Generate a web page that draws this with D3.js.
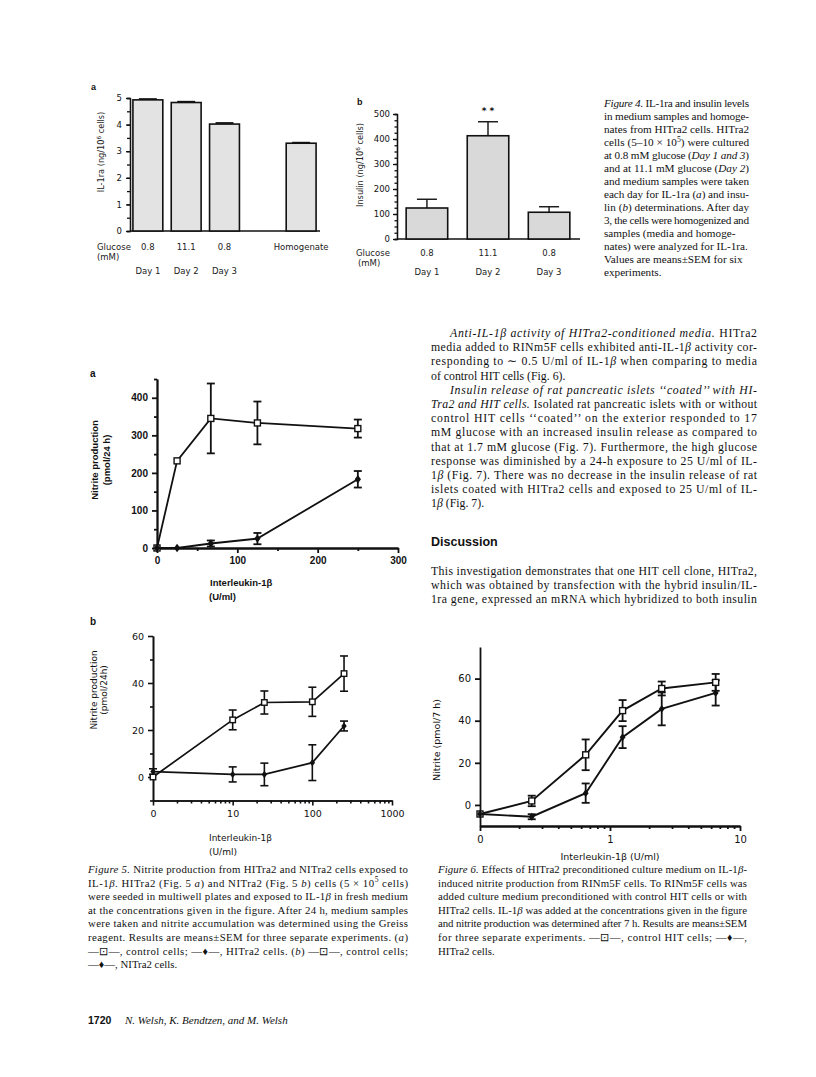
<!DOCTYPE html>
<html>
<head>
<meta charset="utf-8">
<script src="https://cdn.jsdelivr.net/npm/d3@7"></script>
<style>
  body { margin: 0; background: #fff; }
</style>
</head>
<body>
<div id="page"></div>
<script>
// ---- Figure 4a: IL-1ra in medium / homogenate
const il1raKeys = ["d1", "d2", "d3", "gap", "hom"]
const il1raBars = ["d1", "d2", "d3", "hom"]
const il1raGlucose = ["0.8", "11.1", "0.8", "Homogenate"]
const il1raDays = ["Day 1", "Day 2", "Day 3", ""]
const il1raMean = [4.93, 4.83, 4.02, 3.30]
const il1raSem = [0.03, 0.03, 0.04, 0.02]

// ---- Figure 4b: insulin
const insKeys = ["d1", "d2", "d3"]
const insGlucose = ["0.8", "11.1", "0.8"]
const insDays = ["Day 1", "Day 2", "Day 3"]
const insMean = [124, 413, 107]
const insSem = [35, 56, 22]

// ---- Figure 5a: HITra2, nitrite (pmol/24 h) vs IL-1b (U/ml)
const doseA = [0, 25, 67, 125, 250]
const ctrlA = [0, 232, 345, 333, 318]
const ctrlAErr = [0, 0, 93, 57, 24]
const hitA = [0, 0, 12, 25, 183]
const hitAErr = [0, 0, 8, 15, 22]

// ---- Figure 5b: NITra2 (log dose, 0 drawn at first decade)
const doseB = [0, 10, 25, 100, 250]
const ctrlB = [0, 24.3, 31.7, 32, 44]
const ctrlBErr = [0, 4.2, 4.9, 6.2, 7.5]
const nitB = [2.3, 1.1, 1.1, 6.1, 21.7]
const nitBErr = [1.2, 3.2, 4.8, 7.6, 2.1]

// ---- Figure 6: RINm5F, nitrite (pmol/7 h)
const dose6 = [0, 0.25, 0.65, 1.25, 2.5, 6.5]
const ctrl6 = [-4.3, 1.9, 23.8, 44.8, 55.3, 58.2]
const ctrl6Err = [0, 2.5, 7.3, 5, 3.3, 4]
const hit6 = [-4.3, -5.6, 5.6, 32.2, 45.6, 53.2]
const hit6Err = [0, 1.2, 4.6, 5.2, 7.8, 6]

const SERIF = "'Liberation Serif', 'Times New Roman', serif"
const SANS = "'DejaVu Sans', sans-serif"
const HELV = "'Liberation Sans', Arial, sans-serif"

const svg = d3.select("#page").append("svg")
  .attr("width", 816).attr("height", 1077)
svg.append("rect").attr("width", 816).attr("height", 1077).attr("fill", "#fff")

// text with _italic_ and ^sup^ markup
function richText(g, str, x, y, o) {
  const t = g.append("text").attr("x", x).attr("y", y)
    .style("font-family", o.family).style("font-size", o.size + "px")
    .attr("fill", o.fill || "#111")
  if (o.weight) t.style("font-weight", o.weight)
  if (o.anchor) t.attr("text-anchor", o.anchor)
  if (o.transform) t.attr("transform", o.transform)
  const parts = str.split(/(_[^_]*_|\^[^^]*\^)/).filter(s => s.length)
  let up = false
  parts.forEach(p => {
    let s
    if (p[0] === "_") s = t.append("tspan").style("font-style", "italic").text(p.slice(1, -1))
    else if (p[0] === "^") {
      s = t.append("tspan").attr("dy", -o.size * 0.38).style("font-size", (o.size * 0.7) + "px").text(p.slice(1, -1))
      up = true
      return
    } else s = t.append("tspan").text(p)
    if (up) { s.attr("dy", o.size * 0.38); up = false }
  })
  if (o.width) t.attr("textLength", o.width).attr("lengthAdjust", "spacing")
  return t
}

// "\t" prefix = indent, trailing "¶" = paragraph end (not justified)
function block(lines, x0, y0, lh, width, o) {
  lines.forEach((l, i) => {
    let txt = l, ind = 0, just = true
    if (txt.startsWith("\t")) { txt = txt.slice(1); ind = o.indent || 19 }
    if (txt.endsWith("¶")) { txt = txt.slice(0, -1); just = false }
    richText(svg, txt, x0 + ind, y0 + i * lh, Object.assign({}, o, { width: just ? width - ind : null }))
  })
}

function errBars(g, xs, ys, es, x, y, cap, sw) {
  xs.forEach((d, i) => {
    if (!es[i]) return
    const cx = x(d)
    g.append("line").attr("x1", cx).attr("x2", cx).attr("y1", y(ys[i] - es[i])).attr("y2", y(ys[i] + es[i]))
      .attr("stroke", "#111").attr("stroke-width", sw)
    ;[ys[i] - es[i], ys[i] + es[i]].forEach(v => {
      g.append("line").attr("x1", cx - cap).attr("x2", cx + cap).attr("y1", y(v)).attr("y2", y(v))
        .attr("stroke", "#111").attr("stroke-width", sw)
    })
  })
}

function series(g, xs, ys, x, y, marker, sw, ms) {
  const line = d3.line().x(d => x(d[0])).y(d => y(d[1]))
  g.append("path").datum(xs.map((d, i) => [d, ys[i]])).attr("d", line)
    .attr("fill", "none").attr("stroke", "#111").attr("stroke-width", sw)
  xs.forEach((d, i) => {
    const cx = x(d), cy = y(ys[i])
    if (marker === "square") {
      g.append("rect").attr("x", cx - ms / 2).attr("y", cy - ms / 2).attr("width", ms).attr("height", ms)
        .attr("fill", "#fff").attr("stroke", "#111").attr("stroke-width", 1.4)
    } else {
      g.append("path").attr("d", `M${cx},${cy - ms * 0.6}L${cx + ms * 0.45},${cy}L${cx},${cy + ms * 0.6}L${cx - ms * 0.45},${cy}Z`)
        .attr("fill", "#111")
    }
  })
}

function styleAxis(ax, family, size, weight, sw) {
  ax.select(".domain").attr("stroke", "#111").attr("stroke-width", sw)
  ax.selectAll(".tick line").attr("stroke", "#111").attr("stroke-width", sw)
  ax.selectAll(".tick text").style("font-family", family).style("font-size", size + "px")
    .style("font-weight", weight).attr("fill", "#111")
}

// ================= Figure 4a =================
{
  const g = svg.append("g")
  const x = d3.scaleBand().domain(il1raKeys).range([131, 318]).paddingInner(0.22).paddingOuter(0.05)
  const y = d3.scaleLinear().domain([0, 5]).range([231, 98])
  g.append("g").attr("transform", "translate(130,0)")
    .call(d3.axisLeft(y).tickValues(d3.range(0, 5.01, 0.5)).tickSize(3).tickFormat(""))
    .call(a => styleAxis(a, SANS, 8, 400, 1.3))
  const ya = g.append("g").attr("transform", "translate(130,0)")
    .call(d3.axisLeft(y).ticks(5).tickSize(4).tickSizeOuter(0).tickPadding(4))
  styleAxis(ya, SANS, 8.5, 400, 1.3)
  g.append("line").attr("x1", 130).attr("x2", 320).attr("y1", y(0)).attr("y2", y(0))
    .attr("stroke", "#111").attr("stroke-width", 1.6)
  il1raBars.forEach((k, i) => {
    const bx = x(k), bw = x.bandwidth(), cx = bx + bw / 2
    g.append("rect").attr("x", bx).attr("y", y(il1raMean[i])).attr("width", bw)
      .attr("height", y(0) - y(il1raMean[i])).attr("fill", "#e3e3e3").attr("stroke", "#111").attr("stroke-width", 1.6)
    g.append("line").attr("x1", cx - bw * 0.3).attr("x2", cx + bw * 0.3)
      .attr("y1", y(il1raMean[i] + il1raSem[i])).attr("y2", y(il1raMean[i] + il1raSem[i]))
      .attr("stroke", "#111").attr("stroke-width", 1.8)
    richText(g, il1raGlucose[i], cx, 250, { family: SANS, size: 8.5, anchor: "middle", fill: "#222" })
    if (il1raDays[i]) richText(g, il1raDays[i], cx, 274, { family: SANS, size: 8.5, anchor: "middle", fill: "#222" })
  })
  richText(g, "Glucose", 97, 250, { family: SANS, size: 8.5, fill: "#222" })
  richText(g, "(mM)", 97, 260, { family: SANS, size: 8.5, fill: "#222" })
  richText(g, "IL-1ra (ng/10^6^ cells)", 0, 0, { family: SANS, size: 8.2, anchor: "middle", fill: "#222", transform: "translate(104,152) rotate(-90)" })
  richText(g, "a", 91, 90, { family: HELV, size: 9, weight: 700 })
}

// ================= Figure 4b =================
{
  const g = svg.append("g")
  const x = d3.scaleBand().domain(insKeys).range([397, 579]).paddingInner(0.32).paddingOuter(0.15)
  const y = d3.scaleLinear().domain([0, 500]).range([239, 114])
  g.append("g").attr("transform", "translate(397,0)")
    .call(d3.axisLeft(y).tickValues(d3.range(0, 501, 25)).tickSize(2.5).tickFormat(""))
    .call(a => styleAxis(a, SANS, 8, 400, 1.3))
  const ya = g.append("g").attr("transform", "translate(397,0)")
    .call(d3.axisLeft(y).ticks(5).tickSize(4).tickSizeOuter(0).tickPadding(3))
  styleAxis(ya, SANS, 8.5, 400, 1.3)
  g.append("line").attr("x1", 397).attr("x2", 580).attr("y1", y(0)).attr("y2", y(0))
    .attr("stroke", "#111").attr("stroke-width", 1.4)
  insKeys.forEach((k, i) => {
    const bx = x(k), bw = x.bandwidth(), cx = bx + bw / 2
    g.append("rect").attr("x", bx).attr("y", y(insMean[i])).attr("width", bw)
      .attr("height", y(0) - y(insMean[i])).attr("fill", "#d9d9d9").attr("stroke", "#111").attr("stroke-width", 1.6)
    g.append("line").attr("x1", cx).attr("x2", cx).attr("y1", y(insMean[i])).attr("y2", y(insMean[i] + insSem[i]))
      .attr("stroke", "#111").attr("stroke-width", 1.4)
    g.append("line").attr("x1", cx - 10).attr("x2", cx + 10)
      .attr("y1", y(insMean[i] + insSem[i])).attr("y2", y(insMean[i] + insSem[i]))
      .attr("stroke", "#111").attr("stroke-width", 1.4)
    richText(g, insGlucose[i], cx, 256, { family: SANS, size: 8.5, anchor: "middle", fill: "#222" })
    richText(g, insDays[i], cx, 275, { family: SANS, size: 8.5, anchor: "middle", fill: "#222" })
  })
  richText(g, "* *", x("d2") + x.bandwidth() / 2, 114, { family: SANS, size: 9, anchor: "middle", weight: 700 })
  richText(g, "Glucose", 356, 256, { family: SANS, size: 8.5, fill: "#222" })
  richText(g, "(mM)", 358, 266, { family: SANS, size: 8.5, fill: "#222" })
  richText(g, "Insulin (ng/10^6^ cells)", 0, 0, { family: SANS, size: 8.2, anchor: "middle", fill: "#222", transform: "translate(363,165) rotate(-90)" })
  richText(g, "b", 357, 105, { family: HELV, size: 9, weight: 700 })
}

// ================= Figure 5a =================
{
  const g = svg.append("g")
  const x = d3.scaleLinear().domain([0, 300]).range([157, 398])
  const y = d3.scaleLinear().domain([0, 450]).range([548, 379])
  g.append("g").attr("transform", "translate(157,0)")
    .call(d3.axisLeft(y).tickValues([50, 150, 250, 350, 450]).tickSize(3).tickFormat("").tickSizeOuter(0))
    .call(a => styleAxis(a, HELV, 10, 700, 1.8))
  const ya = g.append("g").attr("transform", "translate(157,0)")
    .call(d3.axisLeft(y).tickValues([0, 100, 200, 300, 400]).tickSize(5).tickSizeOuter(0).tickPadding(4))
  styleAxis(ya, HELV, 10, 700, 1.8)
  g.append("g").attr("transform", "translate(0,548)")
    .call(d3.axisBottom(x).tickValues([50, 150, 250]).tickSize(3).tickFormat("").tickSizeOuter(0))
    .call(a => styleAxis(a, HELV, 10, 700, 1.8))
  const xa = g.append("g").attr("transform", "translate(0,548)")
    .call(d3.axisBottom(x).tickValues([0, 100, 200, 300]).tickSize(5).tickSizeOuter(0).tickPadding(4))
  styleAxis(xa, HELV, 10, 700, 1.8)
  errBars(g, doseA, ctrlA, ctrlAErr, x, y, 4, 1.8)
  errBars(g, doseA, hitA, hitAErr, x, y, 4, 1.8)
  series(g, doseA, ctrlA, x, y, "square", 1.8, 6)
  series(g, doseA, hitA, x, y, "diamond", 1.8, 7)
  richText(g, "Nitrite production", 0, 0, { family: HELV, size: 9.5, weight: 700, anchor: "middle", transform: "translate(98,460) rotate(-90)" })
  richText(g, "(pmol/24  h)", 0, 0, { family: HELV, size: 9.5, weight: 700, anchor: "middle", transform: "translate(110,460) rotate(-90)" })
  richText(g, "Interleukin-1β", 210, 586, { family: HELV, size: 9.5, weight: 700 })
  richText(g, "(U/ml)", 209, 600, { family: HELV, size: 9.5, weight: 700 })
  richText(g, "a", 90, 377, { family: HELV, size: 10, weight: 700 })
}

// ================= Figure 5b =================
{
  const g = svg.append("g")
  const xl = d3.scaleLog().domain([1, 1000]).range([153, 392])
  const x = v => xl(v === 0 ? 1 : v)
  const y = d3.scaleLinear().domain([-10, 60]).range([800.5, 636])
  const minors = []
  ;[1, 10, 100].forEach(d => d3.range(2, 10).forEach(k => minors.push(d * k)))
  g.append("g").attr("transform", "translate(153,0)")
    .call(d3.axisLeft(y).tickValues([-10, 10, 30, 50]).tickSize(3).tickFormat("").tickSizeOuter(0))
    .call(a => styleAxis(a, SANS, 9.5, 400, 1.6))
  const ya = g.append("g").attr("transform", "translate(153,0)")
    .call(d3.axisLeft(y).tickValues([0, 20, 40, 60]).tickSize(5).tickSizeOuter(0).tickPadding(4))
  styleAxis(ya, SANS, 9.5, 400, 1.6)
  g.append("g").attr("transform", "translate(0,800.5)")
    .call(d3.axisBottom(xl).tickValues(minors).tickSize(3).tickFormat("").tickSizeOuter(0))
    .call(a => styleAxis(a, SANS, 9.5, 400, 1.6))
  const xa = g.append("g").attr("transform", "translate(0,800.5)")
    .call(d3.axisBottom(xl).tickValues([1, 10, 100, 1000]).tickFormat(d => d === 1 ? "0" : d).tickSize(5).tickSizeOuter(0).tickPadding(5))
  styleAxis(xa, SANS, 9.5, 400, 1.6)
  errBars(g, doseB, ctrlB, ctrlBErr, x, y, 4, 1.6)
  errBars(g, doseB, nitB, nitBErr, x, y, 4, 1.6)
  series(g, doseB, ctrlB, x, y, "square", 1.7, 5.5)
  series(g, doseB, nitB, x, y, "diamond", 1.7, 6)
  richText(g, "Nitrite production", 0, 0, { family: SANS, size: 9, anchor: "middle", transform: "translate(97,690) rotate(-90)" })
  richText(g, "(pmol/24h)", 0, 0, { family: SANS, size: 9, anchor: "middle", transform: "translate(107,690) rotate(-90)" })
  richText(g, "Interleukin-1β", 209, 841, { family: SANS, size: 9 })
  richText(g, "(U/ml)", 209, 855, { family: SANS, size: 9 })
  richText(g, "b", 90, 625, { family: HELV, size: 10, weight: 700 })
}

// ================= Figure 6 =================
{
  const g = svg.append("g")
  const xl = d3.scaleLog().domain([0.1, 10]).range([480, 740])
  const x = v => xl(v === 0 ? 0.1 : v)
  const y = d3.scaleLinear().domain([-10, 75]).range([826, 647])
  const minors = []
  ;[0.1, 1].forEach(d => d3.range(2, 10).forEach(k => minors.push(d * k)))
  const ya = g.append("g").attr("transform", "translate(480,0)")
    .call(d3.axisLeft(y).tickValues([0, 20, 40, 60]).tickSize(5).tickSizeOuter(0).tickPadding(4))
  styleAxis(ya, SANS, 10, 400, 1.8)
  g.append("g").attr("transform", "translate(0,826)")
    .call(d3.axisBottom(xl).tickValues(minors).tickSize(3).tickFormat("").tickSizeOuter(0))
    .call(a => styleAxis(a, SANS, 10, 400, 1.8))
  const xa = g.append("g").attr("transform", "translate(0,826)")
    .call(d3.axisBottom(xl).tickValues([0.1, 1, 10]).tickFormat(d => d < 0.5 ? "0" : d).tickSize(5).tickSizeOuter(0).tickPadding(5))
  styleAxis(xa, SANS, 10, 400, 1.8)
  errBars(g, dose6, ctrl6, ctrl6Err, x, y, 4, 1.8)
  errBars(g, dose6, hit6, hit6Err, x, y, 4, 1.8)
  series(g, dose6, ctrl6, x, y, "square", 1.9, 6)
  series(g, dose6, hit6, x, y, "diamond", 1.9, 6.5)
  richText(g, "Nitrite (pmol/7 h)", 0, 0, { family: SANS, size: 9.5, anchor: "middle", transform: "translate(440,740) rotate(-90)" })
  richText(g, "Interleukin-1β (U/ml)", 610, 860, { family: SANS, size: 9.5, anchor: "middle" })
}

// ================= text =================
block([
  "_Figure 4._ IL-1ra and insulin levels",
  "in medium samples and homoge-",
  "nates from HITra2 cells. HITra2",
  "cells (5–10 × 10^5^) were cultured",
  "at 0.8 mM glucose (_Day 1 and 3_)",
  "and at 11.1 mM glucose (_Day 2_)",
  "and medium samples were taken",
  "each day for IL-1ra (_a_) and insu-",
  "lin (_b_) determinations. After day",
  "3, the cells were homogenized and",
  "samples (media and homoge-¶",
  "nates) were analyzed for IL-1ra.¶",
  "Values are means±SEM for six¶",
  "experiments.¶"
], 604, 107, 13, 145, { family: SERIF, size: 11.2 })

block([
  "\t_Anti-IL-1β activity of HITra2-conditioned media._ HITra2",
  "media added to RINm5F cells exhibited anti-IL-1_β_ activity cor-",
  "responding to ∼ 0.5 U/ml of IL-1_β_ when comparing to media",
  "of control HIT cells (Fig. 6).¶",
  "\t_Insulin release of rat pancreatic islets ‘‘coated’’ with HI-_",
  "_Tra2 and HIT cells._ Isolated rat pancreatic islets with or without",
  "control HIT cells ‘‘coated’’ on the exterior responded to 17",
  "mM glucose with an increased insulin release as compared to",
  "that at 1.7 mM glucose (Fig. 7). Furthermore, the high glucose",
  "response was diminished by a 24-h exposure to 25 U/ml of IL-",
  "1_β_ (Fig. 7). There was no decrease in the insulin release of rat",
  "islets coated with HITra2 cells and exposed to 25 U/ml of IL-",
  "1_β_ (Fig. 7).¶"
], 431, 337, 14.2, 326, { family: SERIF, size: 11.8, indent: 19 })

richText(svg, "Discussion", 431, 546, { family: HELV, size: 12.5, weight: 700 })

block([
  "This investigation demonstrates that one HIT cell clone, HITra2,",
  "which was obtained by transfection with the hybrid insulin/IL-",
  "1ra gene, expressed an mRNA which hybridized to both insulin"
], 431, 575, 14, 326, { family: SERIF, size: 11.8 })

block([
  "_Figure 5._ Nitrite production from HITra2 and NITra2 cells exposed to",
  "IL-1_β_. HITra2 (Fig. 5 _a_) and NITra2 (Fig. 5 _b_) cells (5 × 10^5^ cells)",
  "were seeded in multiwell plates and exposed to IL-1_β_ in fresh medium",
  "at the concentrations given in the figure. After 24 h, medium samples",
  "were taken and nitrite accumulation was determined using the Greiss",
  "reagent. Results are means±SEM for three separate experiments. (_a_)",
  "—⊡—, control cells; —♦—, HITra2 cells. (_b_) —⊡—, control cells;",
  "—♦—, NITra2 cells.¶"
], 88, 873, 13.6, 320, { family: SERIF, size: 10.8 })

block([
  "_Figure 6._ Effects of HITra2 preconditioned culture medium on IL-1_β_-",
  "induced nitrite production from RINm5F cells. To RINm5F cells was",
  "added culture medium preconditioned with control HIT cells or with",
  "HITra2 cells. IL-1_β_ was added at the concentrations given in the figure",
  "and nitrite production was determined after 7 h. Results are means±SEM",
  "for three separate experiments. —⊡—, control HIT cells; —♦—,",
  "HITra2 cells.¶"
], 438, 873, 13.6, 309, { family: SERIF, size: 10.8 })

richText(svg, "1720", 88, 1024, { family: HELV, size: 10.5, weight: 700 })
richText(svg, "_N. Welsh, K. Bendtzen, and M. Welsh_", 125, 1024, { family: SERIF, size: 11 })
</script>
</body>
</html>
